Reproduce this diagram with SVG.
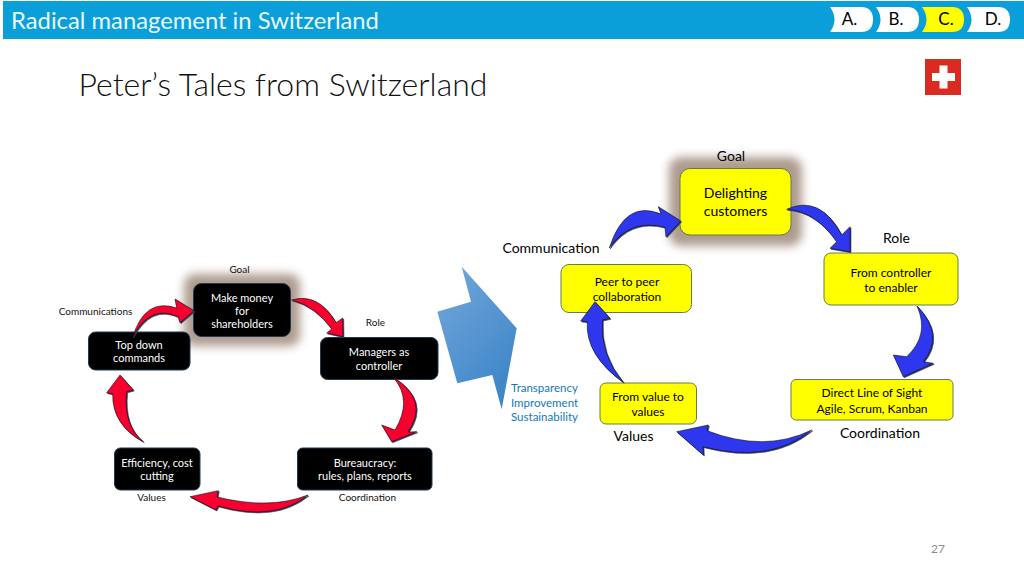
<svg xmlns="http://www.w3.org/2000/svg" width="1024" height="576" viewBox="0 0 1024 576">
<style>
text{font-family:"Lato","Open Sans","Liberation Sans",sans-serif;text-anchor:middle;fill:#000}
.hd{text-anchor:start;fill:#eaf7fd;font-size:23.800px}
.ti{text-anchor:start;font-size:32px;font-weight:300;fill:#111}
.tab{fill:#fff}
.tt{font-size:17px}
.k{fill:#000;stroke:#1f3a52;stroke-width:1}
.y{fill:#ff0;stroke:#5f7f4f;stroke-width:1}
.w{fill:#fff;font-size:11px}
.b{font-size:10px;fill:#111}
.m{font-size:12px;fill:#000}
.l{font-size:14px;fill:#000}
.c{font-size:11.500px;fill:#1477bd}
.pg{font-size:12px;fill:#8a8a8a}
.r{fill:#f5002f;stroke:#111;stroke-width:.6;filter:drop-shadow(1.500px 1.500px 0 #33405a)}
.u{fill:#2f37ee;stroke:#111;stroke-width:.6;filter:drop-shadow(1.500px 1.500px 0 #33405a)}
.glow{fill:#8f7564;opacity:.72;filter:url(#blur)}
</style>
<defs>
<filter id="blur" x="-30%" y="-30%" width="160%" height="160%"><feGaussianBlur stdDeviation="5"/></filter>
<linearGradient id="big" x1="0" y1="0" x2="0.6" y2="1"><stop offset="0" stop-color="#74a8dc"/><stop offset="1" stop-color="#3f86c8"/></linearGradient>
</defs>
<g id="header">
<rect x="3" y="1" width="1021" height="38" fill="#0a9fd8"/>
<text class="hd" x="11" y="29">Radical management in Switzerland</text>
</g>
<g id="tab-a"><path class="tab" d="M830,7H861Q873,7 873,19.500Q873,32 861,32H830Q839,19.500 830,7Z"/><text class="tt" x="849.500" y="24.500">A.</text></g>
<g id="tab-b"><path class="tab" d="M876,7H907Q919,7 919,19.500Q919,32 907,32H876Q885,19.500 876,7Z"/><text class="tt" x="896" y="24.500">B.</text></g>
<g id="tab-c"><path d="M922,7H952Q964,7 964,19.500Q964,32 952,32H922Q931,19.500 922,7Z" fill="#ff0"/><text class="tt" x="946" y="24.500">C.</text></g>
<g id="tab-d"><path class="tab" d="M967,7H998Q1010,7 1010,19.500Q1010,32 998,32H967Q976,19.500 967,7Z"/><text class="tt" x="993" y="24.500">D.</text></g>
<text class="ti" x="78.500" y="96">Peter’s Tales from Switzerland</text>
<g id="flag"><rect x="925" y="59" width="36" height="36" fill="#db2a22"/><path d="M939.500,65.500h8v7.500h7.500v8h-7.500v7.500h-8v-7.500h-7.500v-8h7.500z" fill="#fff"/></g>
<g id="big-arrow"><path d="M461.700,266.700L516.700,328.300L501.700,409.300L492.300,375L457.300,383.300L437.300,311.700L471,301.700Z" fill="url(#big)"/></g>

<g id="node-money"><rect class="glow" x="184" y="274" width="116" height="72" rx="10"/><rect class="k" x="193.500" y="283.500" width="97" height="53" rx="8"/><text class="w" x="242" y="302">Make money</text><text class="w" x="242" y="315">for</text><text class="w" x="242" y="328">shareholders</text></g>
<g id="node-topdown"><rect class="k" x="88.500" y="332" width="101.500" height="38" rx="7"/><text class="w" x="139" y="349">Top down</text><text class="w" x="139" y="362">commands</text></g>
<g id="node-managers"><rect class="k" x="320.500" y="337.500" width="117.500" height="42" rx="7"/><text class="w" x="379" y="356">Managers as</text><text class="w" x="379" y="370">controller</text></g>
<g id="node-bureau"><rect class="k" x="297.500" y="448" width="134.500" height="42" rx="5"/><text class="w" x="365" y="467">Bureaucracy:</text><text class="w" x="365" y="480">rules, plans, reports</text></g>
<g id="node-efficiency"><rect class="k" x="114.500" y="448" width="85.500" height="42" rx="6"/><text class="w" x="157" y="467">Efficiency, cost</text><text class="w" x="157" y="480">cutting</text></g>
<text class="b" x="239.500" y="273">Goal</text>
<text class="b" x="95.500" y="315">Communications</text>
<text class="b" x="375.500" y="326">Role</text>
<text class="b" x="367.500" y="500.500">Coordination</text>
<text class="b" x="151.500" y="500.500">Values</text>

<g id="node-delight"><rect class="glow" x="669" y="157" width="133" height="89" rx="12"/><rect class="y" x="680" y="168.500" width="111" height="66.500" rx="10"/><text class="l" x="735.500" y="198">Delighting</text><text class="l" x="735.500" y="216">customers</text></g>
<g id="node-peer"><rect class="y" x="561" y="264.500" width="130.500" height="48" rx="8"/><text class="m" x="627" y="286">Peer to peer</text><text class="m" x="627" y="301">collaboration</text></g>
<g id="node-value"><rect class="y" x="600" y="383" width="96.500" height="41" rx="6"/><text class="m" x="648" y="401">From value to</text><text class="m" x="648" y="416">values</text></g>
<g id="node-direct"><rect class="y" x="791" y="379.500" width="162" height="40.500" rx="5"/><text class="m" x="872" y="397">Direct Line of Sight</text><text class="m" x="872" y="413">Agile, Scrum, Kanban</text></g>
<g id="node-controller"><rect class="y" x="824" y="253" width="134" height="52" rx="7"/><text class="m" x="891" y="277">From controller</text><text class="m" x="891" y="292">to enabler</text></g>
<text class="l" x="731" y="161">Goal</text>
<text class="l" x="551" y="253">Communication</text>
<text class="l" x="896.500" y="243">Role</text>
<text class="l" x="880" y="438">Coordination</text>
<text class="l" x="633.500" y="441">Values</text>
<text class="c" x="544.500" y="392">Transparency</text>
<text class="c" x="544.500" y="407">Improvement</text>
<text class="c" x="544.500" y="421">Sustainability</text>
<text class="pg" x="938" y="553">27</text>

<g id="connectors">
<path class="r" d="M132.700,337Q145,297 176.700,308L175,299L194,310.700L180,322.700L178,316.700Q150,304 132.700,337Z"/>
<path class="r" d="M291.700,300Q318,292 336,322.700L342.700,318L343,336.700L326.700,333L331.700,329Q315,306 291.700,300Z"/>
<path class="r" d="M393.300,377.300Q430,400 408,432L416.700,431.700L391.700,441.700L381.700,425L395,430Q413,400 393.300,377.300Z"/>
<path class="r" d="M308,495Q270,510 217,497L218.300,490.700L190,496.700L216,510L218,506Q275,522 308,495Z"/>
<path class="r" d="M143.300,441.700Q123,425 126.700,391.700L133.300,390L120,375L106.700,392.700L112.700,394Q112,425 143.300,441.700Z"/>
<path class="u" d="M609.300,248Q625,199 661,214L658.300,206.700L680.700,221L666,236.700L665,227.300Q630,218 609.300,248Z"/>
<path class="u" d="M786.700,209.300Q820,194 841.700,235L850,226.700L850,251.700L830,248.300L836.700,241.700Q815,211 786.700,209.300Z"/>
<path class="u" d="M917,306Q945,335 923.300,361.700L933.300,363.300L903.300,376.700L893.300,355L906.700,356.700Q930,335 917,306Z"/>
<path class="u" d="M811.700,430Q765,453 707,430.700L708.300,425L676.700,431.700L703.300,455L703,446.700Q770,464 811.700,430Z"/>
<path class="u" d="M623.300,382.300Q600,355 602.300,320L610,318.300L595,301.700L580.700,321L587.300,321.700Q585,355 623.300,382.300Z"/>
</g>
</svg>
